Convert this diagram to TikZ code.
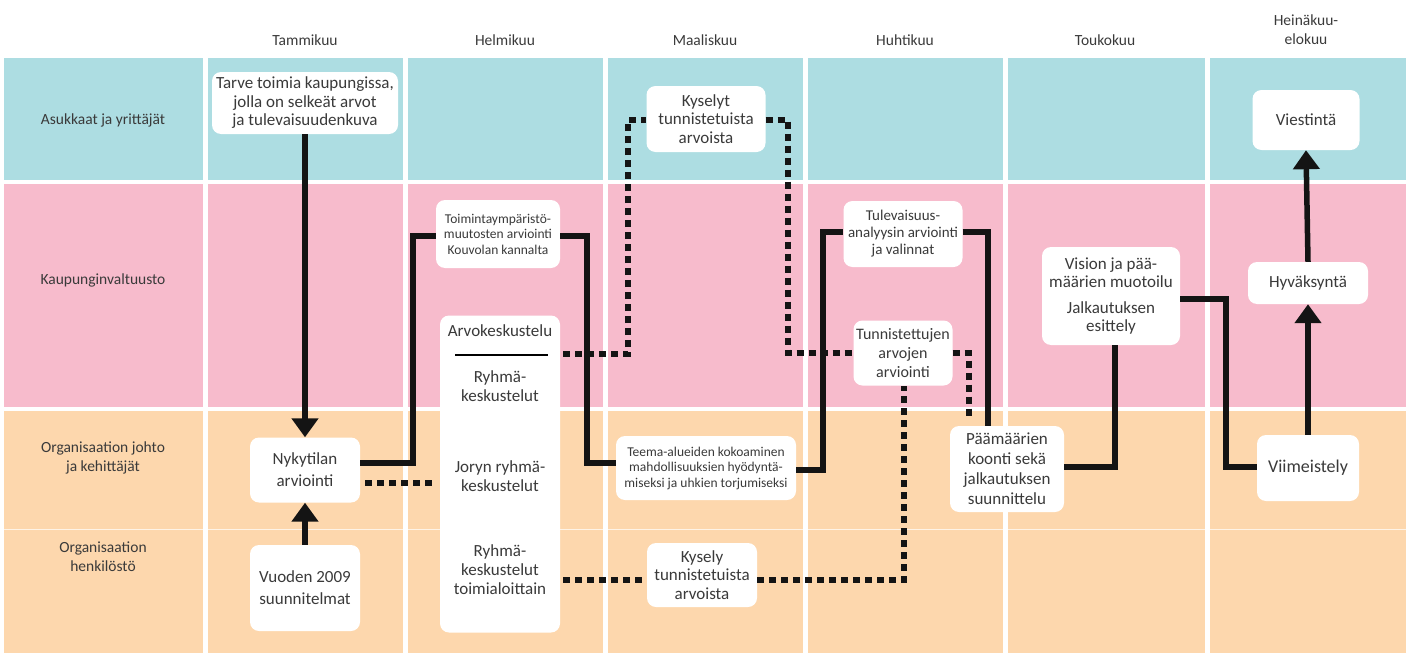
\documentclass[tikz,border=0pt]{standalone}
\usepackage{fontspec}
\setmainfont{Carlito}
\usetikzlibrary{arrows.meta}
\definecolor{rowblue}{RGB}{173,221,226}
\definecolor{rowpink}{RGB}{247,187,204}
\definecolor{roworange}{RGB}{253,215,173}
\definecolor{ink}{RGB}{58,58,58}
\begin{document}
\begin{tikzpicture}[x=1pt,y=-1pt,
  lbl/.style={text=ink, align=center, font=\fontsize{15.5}{19}\selectfont},
  box/.style={fill=white, rounded corners=9pt, align=center, text=ink, inner sep=0pt,
              font=\fontsize{17}{18.5}\selectfont},
  smallbox/.style={box, font=\fontsize{13.5}{15.5}\selectfont},
  coltext/.style={text=ink, align=center, font=\fontsize{17}{19}\selectfont},
  conn/.style={line width=5.5pt, draw=black!92},
  dconn/.style={line width=6pt, draw=black!92, dash pattern=on 7pt off 5pt},
  arr/.style={-{Triangle[width=26pt,length=19pt]}}]
\useasboundingbox (0,0) rectangle (1411,653);

% lane backgrounds
\foreach \xa/\xb in {4/203,208/403,408/603,608/803,808/1003,1008/1205,1210/1406}{
  \fill[rowblue]   (\xa,58)  rectangle (\xb,180);
  \fill[rowpink]   (\xa,184) rectangle (\xb,407);
  \fill[roworange] (\xa,411) rectangle (\xb,653);
}
\draw[white, line width=1pt, opacity=0.7] (4,529) -- (1406,529);

% month headings
\node[lbl] (m1) at (305,40) {Tammikuu};
\node[lbl] (m2) at (505,40) {Helmikuu};
\node[lbl] (m3) at (705,40) {Maaliskuu};
\node[lbl] (m4) at (905,40) {Huhtikuu};
\node[lbl] (m5) at (1105,40) {Toukokuu};
\node[lbl] (m6) at (1306,30) {Heinäkuu-\\elokuu};

% lane labels
\node[lbl] (r1) at (103,120) {Asukkaat ja yrittäjät};
\node[lbl] (r2) at (103,280) {Kaupunginvaltuusto};
\node[lbl] (r3) at (103,458) {Organisaation johto\\ja kehittäjät};
\node[lbl] (r4) at (103,557) {Organisaation\\henkilöstö};

% activity boxes
\node[box, minimum width=186pt, minimum height=62pt] (tarve) at (305,103)
  {Tarve toimia kaupungissa,\\jolla on selkeät arvot\\ja tulevaisuudenkuva};
\node[box, minimum width=119pt, minimum height=66pt] (kyselyt) at (706,119)
  {Kyselyt\\tunnistetuista\\arvoista};
\node[box, minimum width=107pt, minimum height=60pt] (viest) at (1306,120) {Viestintä};
\node[smallbox, minimum width=124pt, minimum height=68pt] (toim) at (498,234)
  {Toimintaympäristö-\\muutosten arviointi\\Kouvolan kannalta};
\node[box, font=\fontsize{15}{17}\selectfont, minimum width=119pt, minimum height=66pt] (tulev) at (903,234)
  {Tulevaisuus-\\analyysin arviointi\\ja valinnat};
\node[box, minimum width=138pt, minimum height=98pt] (vision) at (1111,296)
  {Vision ja pää-\\määrien muotoilu\\[7pt]Jalkautuksen\\esittely};
\node[box, minimum width=120pt, minimum height=42pt] (hyv) at (1308,283) {Hyväksyntä};
\node[box, font=\fontsize{16}{19}\selectfont, minimum width=99pt, minimum height=65pt] (tunn) at (903,353)
  {Tunnistettujen\\arvojen\\arviointi};
\node[box, minimum width=120pt, minimum height=317pt] (arvo) at (500,474) {};
\node[coltext] (arvo1) at (500,331) {Arvokeskustelu};
\draw[line width=2pt, black] (455,355) -- (548,355);
\node[coltext] (arvo2) at (500,386) {Ryhmä-\\keskustelut};
\node[coltext] (arvo3) at (500,476) {Joryn ryhmä-\\keskustelut};
\node[coltext] (arvo4) at (500,570) {Ryhmä-\\keskustelut\\toimialoittain};
\node[box, font=\fontsize{17}{22}\selectfont, minimum width=110pt, minimum height=65pt] (nyky) at (305,470)
  {Nykytilan\\arviointi};
\node[smallbox, minimum width=180pt, minimum height=64pt] (teema) at (706,468)
  {Teema-alueiden kokoaminen\\mahdollisuuksien hyödyntä-\\miseksi ja uhkien torjumiseksi};
\node[box, font=\fontsize{17}{20}\selectfont, minimum width=114pt, minimum height=86pt] (paam) at (1007,469)
  {Päämäärien\\koonti sekä\\jalkautuksen\\suunnittelu};
\node[box, font=\fontsize{18}{20}\selectfont, minimum width=102pt, minimum height=66pt] (viim) at (1308,468) {Viimeistely};
\node[box, font=\fontsize{17}{22}\selectfont, minimum width=110pt, minimum height=86pt] (vuod) at (305,588)
  {Vuoden 2009\\suunnitelmat};
\node[box, minimum width=110pt, minimum height=64pt] (kysely) at (702,575)
  {Kysely\\tunnistetuista\\arvoista};

% solid flow
\draw[conn, arr] (tarve.south) -- (nyky.north);
\draw[conn, arr] (vuod.north) -- (nyky.south);
\draw[conn] ([yshift=7pt]nyky.east) -| (413,236) -- (toim.west |- 0,236);
\draw[conn] (toim.east |- 0,236) -| (587,463) -- (teema.west |- 0,463);
\draw[conn] (teema.east |- 0,470) -| (823,232) -- (tulev.west |- 0,232);
\draw[conn] (tulev.east |- 0,232) -| (988,426);
\draw[conn] (paam.east |- 0,467) -| (vision.south -| 1115,0);
\draw[conn] (vision.east |- 0,299) -| (1226,467) -- (viim.west |- 0,467);
\draw[conn, arr] (viim.north) -- (hyv.south);
\draw[conn, arr] (hyv.north) -- (viest.south);

% dashed flow
\draw[dconn] ([yshift=-13pt]nyky.east) ++(5,0) -- (437,483);
\draw[dconn] (563,354) -| (628,120) -- (kyselyt.west |- 0,120);
\draw[dconn] (kyselyt.east |- 0,120) -| (788,353) -- (tunn.west |- 0,353);
\draw[dconn] (tunn.east |- 0,353) -| (969,420);
\draw[dconn] (563,580) -- (kysely.west |- 0,580);
\draw[dconn] (kysely.east |- 0,580) -| (904,386);
\end{tikzpicture}
\end{document}
